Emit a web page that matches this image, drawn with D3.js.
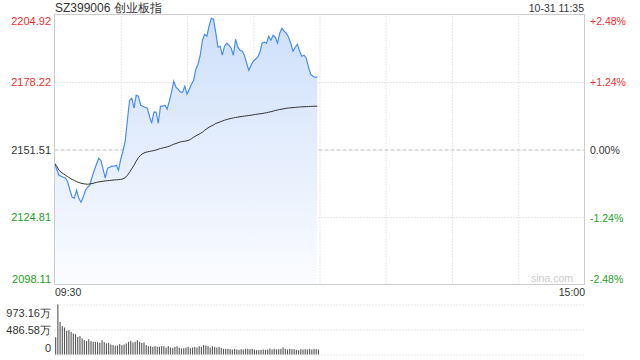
<!DOCTYPE html>
<html>
<head>
<meta charset="utf-8">
<script src="https://cdn.jsdelivr.net/npm/d3@7"></script>
<style>
    body { margin: 0; background: #fff; }
    svg { display: block; font-family: "Liberation Sans", Arial, sans-serif; }
</style>
</head>
<body>
<div id="chart"></div>
<script>
// chart data
var titleText = "SZ399006 创业板指";
var timeStamp = "10-31 11:35";
var prevClose = 2151.51;
var priceTicks = [2204.92, 2178.22, 2151.51, 2124.81, 2098.11];
var pctTicks = ["+2.48%", "+1.24%", "0.00%", "-1.24%", "-2.48%"];
var volTicks = [973.16, 486.58, 0];
var volTickLabels = ["973.16万", "486.58万", "0"];
var timeLabels = ["09:30", "15:00"];

// one value a minute from 09:30
var prices = [
    2146.09, 2143.72, 2141.34, 2140.95, 2140.55, 2140.16, 2138.57, 2135.41, 2132.64, 2132.24,
    2135.41, 2132.24, 2130.66, 2132.64, 2135.41, 2136.60, 2137.39, 2140.55, 2143.32, 2145.69,
    2148.07, 2147.28, 2143.72, 2140.16, 2144.11, 2144.51, 2144.90, 2144.90, 2145.30, 2143.32,
    2147.67, 2150.84, 2154.79, 2163.10, 2171.01, 2171.80, 2167.85, 2172.99, 2172.60, 2169.03,
    2168.64, 2168.24, 2167.85, 2164.68, 2161.91, 2166.27, 2166.27, 2161.91, 2168.64, 2168.64,
    2169.03, 2167.45, 2170.62, 2174.18, 2178.53, 2176.16, 2175.36, 2174.18, 2174.18, 2176.55,
    2173.39, 2175.36, 2177.34, 2178.92, 2183.28, 2185.25, 2188.81, 2194.75, 2197.12, 2196.33,
    2200.29, 2203.45, 2203.06, 2197.91, 2191.98, 2192.37, 2188.81, 2192.37, 2193.56, 2192.77,
    2191.58, 2188.81, 2195.14, 2191.98, 2190.79, 2190.40, 2188.81, 2185.65, 2182.88, 2184.86,
    2186.44, 2187.23, 2188.02, 2190.00, 2193.56, 2193.96, 2193.56, 2196.33, 2194.75, 2196.73,
    2195.94, 2193.56, 2197.52, 2199.50, 2198.31, 2197.52, 2195.94, 2193.56, 2190.40, 2191.98,
    2193.17, 2190.40, 2188.42, 2188.81, 2187.63, 2184.07, 2181.30, 2180.51, 2180.11, 2180.11
];

var avgPrices = [
    2146.09, 2144.90, 2143.32, 2142.53, 2141.94, 2141.34, 2140.75, 2140.16, 2139.64, 2139.25,
    2138.77, 2138.46, 2138.18, 2137.98, 2137.86, 2137.78, 2137.90, 2138.06, 2138.26, 2138.50,
    2138.69, 2138.81, 2138.97, 2139.09, 2139.17, 2139.25, 2139.37, 2139.45, 2139.52, 2139.60,
    2139.68, 2139.92, 2140.35, 2141.34, 2142.53, 2143.91, 2145.30, 2146.88, 2148.27, 2149.26,
    2149.93, 2150.32, 2150.56, 2150.76, 2150.92, 2151.11, 2151.31, 2151.63, 2151.91, 2152.10,
    2152.34, 2152.54, 2152.82, 2153.21, 2153.61, 2153.88, 2154.20, 2154.52, 2154.67, 2154.79,
    2154.99, 2155.27, 2155.78, 2156.38, 2156.89, 2157.36, 2157.84, 2158.35, 2159.14, 2159.74,
    2160.33, 2160.81, 2161.24, 2161.80, 2162.11, 2162.43, 2162.78, 2163.10, 2163.38, 2163.62,
    2163.81, 2164.01, 2164.17, 2164.33, 2164.49, 2164.60, 2164.72, 2164.84, 2164.96, 2165.08,
    2165.24, 2165.40, 2165.51, 2165.63, 2165.75, 2165.91, 2166.07, 2166.27, 2166.46, 2166.70,
    2166.94, 2167.14, 2167.33, 2167.49, 2167.65, 2167.81, 2167.93, 2168.01, 2168.09, 2168.17,
    2168.24, 2168.32, 2168.40, 2168.44, 2168.48, 2168.52, 2168.56, 2168.60, 2168.64, 2168.64
];

// volume in 万
var volumes = [
    337, 973, 636, 551, 525, 461, 474, 441, 409, 396,
    344, 357, 311, 279, 260, 298, 260, 247, 247, 240,
    227, 279, 240, 214, 227, 195, 182, 169, 175, 201,
    182, 195, 214, 247, 266, 234, 247, 279, 247, 227,
    234, 182, 162, 162, 149, 162, 149, 149, 162, 162,
    136, 162, 136, 130, 149, 162, 130, 117, 123, 136,
    149, 123, 136, 149, 136, 162, 149, 182, 175, 162,
    136, 162, 149, 136, 149, 130, 110, 110, 110, 104,
    97, 110, 97, 91, 104, 97, 110, 110, 104, 110,
    97, 84, 84, 91, 97, 91, 97, 117, 97, 110,
    97, 104, 110, 136, 110, 97, 110, 104, 104, 91,
    84, 104, 97, 104, 97, 110, 97, 110, 104, 97
];

var svgWidth = 640;
var svgHeight = 360;

// plot box edges (half pixels keep the 1px lines crisp)
var boxLeft = 54.5, boxRight = 584.5;
var boxTop = 14.5, boxBottom = 284.5;
var volTop = 304.5, volBottom = 354.5;

var svg = d3.select("#chart")
    .append("svg")
    .attr("width", svgWidth)
    .attr("height", svgHeight);

// scales: 240 trading minutes across the box
var xScale = d3.scaleLinear().domain([0, 240]).range([boxLeft, boxRight]);
var yScale = d3.scaleLinear()
    .domain([priceTicks[priceTicks.length - 1], priceTicks[0]])
    .range([boxBottom, boxTop]);
var volScale = d3.scaleLinear().domain([0, volTicks[0]]).range([volBottom, volTop]);

function tickColor(d) {
    if (d > prevClose) return "#f03030";
    if (d < prevClose) return "#24a024";
    return "#333";
}

// gradient for the area under the price line
var grad = svg.append("defs").append("linearGradient")
    .attr("id", "areaFill")
    .attr("gradientUnits", "userSpaceOnUse")
    .attr("x1", 0).attr("x2", 0)
    .attr("y1", boxTop).attr("y2", boxBottom);
grad.append("stop").attr("offset", "0%").attr("stop-color", "#cddffa");
grad.append("stop").attr("offset", "100%").attr("stop-color", "#fbfcff");

// vertical grid every half hour
var xGrid = svg.append("g")
    .attr("transform", `translate(0, ${boxBottom})`)
    .call(d3.axisBottom(xScale)
        .tickValues(d3.range(30, 240, 30))
        .tickSize(-(boxBottom - boxTop))
        .tickFormat(""));
xGrid.select(".domain").remove();
xGrid.selectAll("line")
    .attr("stroke", "#cfcfcf")
    .attr("stroke-dasharray", "1,2");

// horizontal grid inside the box
var yGrid = svg.append("g")
    .attr("transform", `translate(${boxLeft}, 0)`)
    .call(d3.axisLeft(yScale)
        .tickValues(priceTicks.slice(1, -1))
        .tickSize(-(boxRight - boxLeft))
        .tickFormat(""));
yGrid.select(".domain").remove();
yGrid.selectAll("line")
    .attr("stroke", d => d === prevClose ? "#bdbdbd" : "#cfcfcf")
    .attr("stroke-dasharray", d => d === prevClose ? "4,2" : "1,2");

// area + price line
var area = d3.area()
    .x((d, i) => xScale(i))
    .y0(boxBottom)
    .y1(d => yScale(d));

svg.append("path")
    .datum(prices)
    .attr("d", area)
    .attr("fill", "url(#areaFill)");

var line = d3.line()
    .x((d, i) => xScale(i))
    .y(d => yScale(d));

svg.append("path")
    .datum(prices)
    .attr("d", line)
    .attr("fill", "none")
    .attr("stroke", "#4a8cf0")
    .attr("stroke-width", 1.2);

// average price line
svg.append("path")
    .datum(avgPrices)
    .attr("d", line)
    .attr("fill", "none")
    .attr("stroke", "#333")
    .attr("stroke-width", 1);

// box border
svg.append("rect")
    .attr("x", boxLeft)
    .attr("y", boxTop)
    .attr("width", boxRight - boxLeft)
    .attr("height", boxBottom - boxTop)
    .attr("fill", "none")
    .attr("stroke", "#cccccc");

// left price labels
var leftAxis = svg.append("g")
    .attr("transform", `translate(${boxLeft}, 0)`)
    .call(d3.axisLeft(yScale)
        .tickValues(priceTicks)
        .tickSize(0)
        .tickPadding(3.5)
        .tickFormat(d3.format(".2f")));
leftAxis.select(".domain").remove();
leftAxis.selectAll("text")
    .attr("fill", d => tickColor(d))
    .style("font-size", "11px")
    .attr("dy", (d, i) => i === 0 ? "0.95em" : (i === priceTicks.length - 1 ? "-0.2em" : "0.36em"));

// right percent labels
var rightAxis = svg.append("g")
    .attr("transform", `translate(${boxRight}, 0)`)
    .call(d3.axisRight(yScale)
        .tickValues(priceTicks)
        .tickSize(0)
        .tickPadding(5.5)
        .tickFormat((d, i) => pctTicks[i]));
rightAxis.select(".domain").remove();
rightAxis.selectAll("text")
    .attr("fill", d => tickColor(d))
    .style("font-size", "10.5px")
    .attr("dy", (d, i) => i === 0 ? "0.98em" : (i === priceTicks.length - 1 ? "-0.2em" : "0.38em"));

// time labels under the box
var timeAxis = svg.append("g")
    .attr("transform", `translate(0, ${boxBottom})`)
    .call(d3.axisBottom(xScale)
        .tickValues([0, 240])
        .tickSize(0)
        .tickPadding(4.5)
        .tickFormat((d, i) => timeLabels[i]));
timeAxis.select(".domain").remove();
timeAxis.selectAll("text")
    .attr("fill", "#333")
    .style("font-size", "10.5px")
    .attr("text-anchor", (d, i) => i === 0 ? "start" : "end");

// title and timestamp
svg.append("text")
    .attr("x", 55)
    .attr("y", 12)
    .attr("fill", "#333")
    .style("font-size", "12px")
    .text(titleText);

svg.append("text")
    .attr("x", 584)
    .attr("y", 12)
    .attr("text-anchor", "end")
    .attr("fill", "#333")
    .style("font-size", "10.5px")
    .text(timeStamp);

// watermark
svg.append("text")
    .attr("x", 573)
    .attr("y", 282)
    .attr("text-anchor", "end")
    .attr("fill", "#cccccc")
    .style("font-size", "10.5px")
    .text("sina.com");

// volume grid
var volGrid = svg.append("g")
    .attr("transform", `translate(${boxLeft}, 0)`)
    .call(d3.axisLeft(volScale)
        .tickValues(volTicks)
        .tickSize(-(boxRight - boxLeft))
        .tickFormat(""));
volGrid.select(".domain").remove();
volGrid.selectAll("line")
    .attr("stroke", "#cfcfcf")
    .attr("stroke-dasharray", "1,2");

// volume bars
svg.append("g")
    .selectAll("rect")
    .data(volumes)
    .enter()
    .append("rect")
    .attr("x", (d, i) => xScale(i) + 0.6)
    .attr("y", d => volScale(d))
    .attr("width", 1.1)
    .attr("height", d => volBottom - volScale(d))
    .attr("fill", "#555");

// volume labels
var volAxis = svg.append("g")
    .attr("transform", `translate(${boxLeft}, 0)`)
    .call(d3.axisLeft(volScale)
        .tickValues(volTicks)
        .tickSize(0)
        .tickPadding(3.5)
        .tickFormat((d, i) => volTickLabels[i]));
volAxis.select(".domain").remove();
volAxis.selectAll("text")
    .attr("fill", "#333")
    .style("font-size", "11px")
    .attr("dy", (d, i) => i === 0 ? "1.05em" : (i === volTicks.length - 1 ? "-0.25em" : "0.36em"));
</script>
</body>
</html>
